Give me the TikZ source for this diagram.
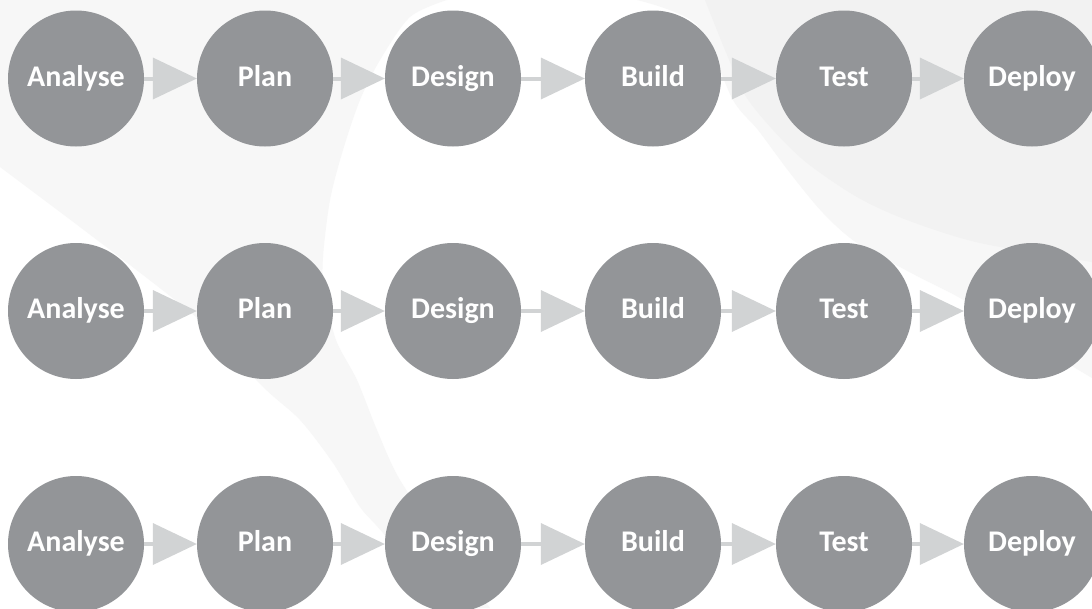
\documentclass[tikz,border=0pt]{standalone}
\usepackage{fontspec}
\setmainfont{Carlito}
\usepackage{tikz}
\usetikzlibrary{arrows.meta,positioning}

\definecolor{stagegray}{HTML}{939598}
\definecolor{arrowgray}{HTML}{D1D3D4}
\definecolor{swooshlight}{HTML}{F7F7F7}
\definecolor{swooshdark}{HTML}{F2F2F2}

\begin{document}
\begin{tikzpicture}[x=10pt,y=10pt,
  stage/.style={circle,fill=stagegray,minimum size=136pt,inner sep=0pt,text=white,
    font=\bfseries\fontsize{30}{30}\selectfont,text height=21pt,text depth=6pt},
  flow/.style={draw=arrowgray,line width=4pt,
    -{Triangle[length=44pt,width=42pt,line width=0pt]}}]
			\useasboundingbox (0,0) rectangle (109.2,-60.8);
			\fill [white] (0,0) rectangle (109.2,-60.8);
			% background swooshes
			\fill [swooshlight] plot [smooth] coordinates {(44.7,0) (41,-1.7) (38,-6) (36,-10) (34.3,-15) (33,-20) (32.3,-25.7) (32.4,-29) (33.6,-34) (35.7,-38) (37.7,-43) (40,-48) (44.5,-54.5) (49,-60.8)}
				-- plot [smooth] coordinates {(44.5,-60.8) (38.3,-53.3) (36,-50.7) (33.3,-46.3) (30,-42) (26.2,-38.6) (19,-31.2) (0,-16.7)}
				-- (0,0) -- cycle;
			\fill [swooshlight] plot [smooth] coordinates {(63.7,0) (69.7,-2.5) (73.3,-10) (75.8,-13) (79,-17.3) (82.3,-21.3) (85.7,-24.3) (91.5,-27.5) (96,-29.8) (102,-33.5) (109.2,-37.8)}
				-- (109.2,0) -- cycle;
			\fill [swooshdark] plot [smooth] coordinates {(70.5,0) (72.5,-5) (74.5,-9.5) (77.3,-13) (80.7,-16.3) (85.7,-19.7) (90.7,-22) (98,-24.3) (109.2,-26.2)}
				-- (109.2,0) -- cycle;
			% first row
			\node [stage] (an1) at (7.6,-7.85) {Analyse};
			\node [stage] (pl1) at (26.5,-7.85) {Plan};
			\node [stage] (de1) at (45.3,-7.85) {Design};
			\node [stage] (bu1) at (65.3,-7.85) {Build};
			\node [stage] (te1) at (84.4,-7.85) {Test};
			\node [stage] (dp1) at (103.2,-7.85) {Deploy};
			\draw [flow] (an1) -- (pl1);
			\draw [flow] (pl1) -- (de1);
			\draw [flow] (de1) -- (bu1);
			\draw [flow] (bu1) -- (te1);
			\draw [flow] (te1) -- (dp1);
			% second row
			\node [stage] (an2) at (7.6,-31.1) {Analyse};
			\node [stage] (pl2) at (26.5,-31.1) {Plan};
			\node [stage] (de2) at (45.3,-31.1) {Design};
			\node [stage] (bu2) at (65.3,-31.1) {Build};
			\node [stage] (te2) at (84.4,-31.1) {Test};
			\node [stage] (dp2) at (103.2,-31.1) {Deploy};
			\draw [flow] (an2) -- (pl2);
			\draw [flow] (pl2) -- (de2);
			\draw [flow] (de2) -- (bu2);
			\draw [flow] (bu2) -- (te2);
			\draw [flow] (te2) -- (dp2);
			% third row
			\node [stage] (an3) at (7.6,-54.4) {Analyse};
			\node [stage] (pl3) at (26.5,-54.4) {Plan};
			\node [stage] (de3) at (45.3,-54.4) {Design};
			\node [stage] (bu3) at (65.3,-54.4) {Build};
			\node [stage] (te3) at (84.4,-54.4) {Test};
			\node [stage] (dp3) at (103.2,-54.4) {Deploy};
			\draw [flow] (an3) -- (pl3);
			\draw [flow] (pl3) -- (de3);
			\draw [flow] (de3) -- (bu3);
			\draw [flow] (bu3) -- (te3);
			\draw [flow] (te3) -- (dp3);
\end{tikzpicture}
\end{document}
